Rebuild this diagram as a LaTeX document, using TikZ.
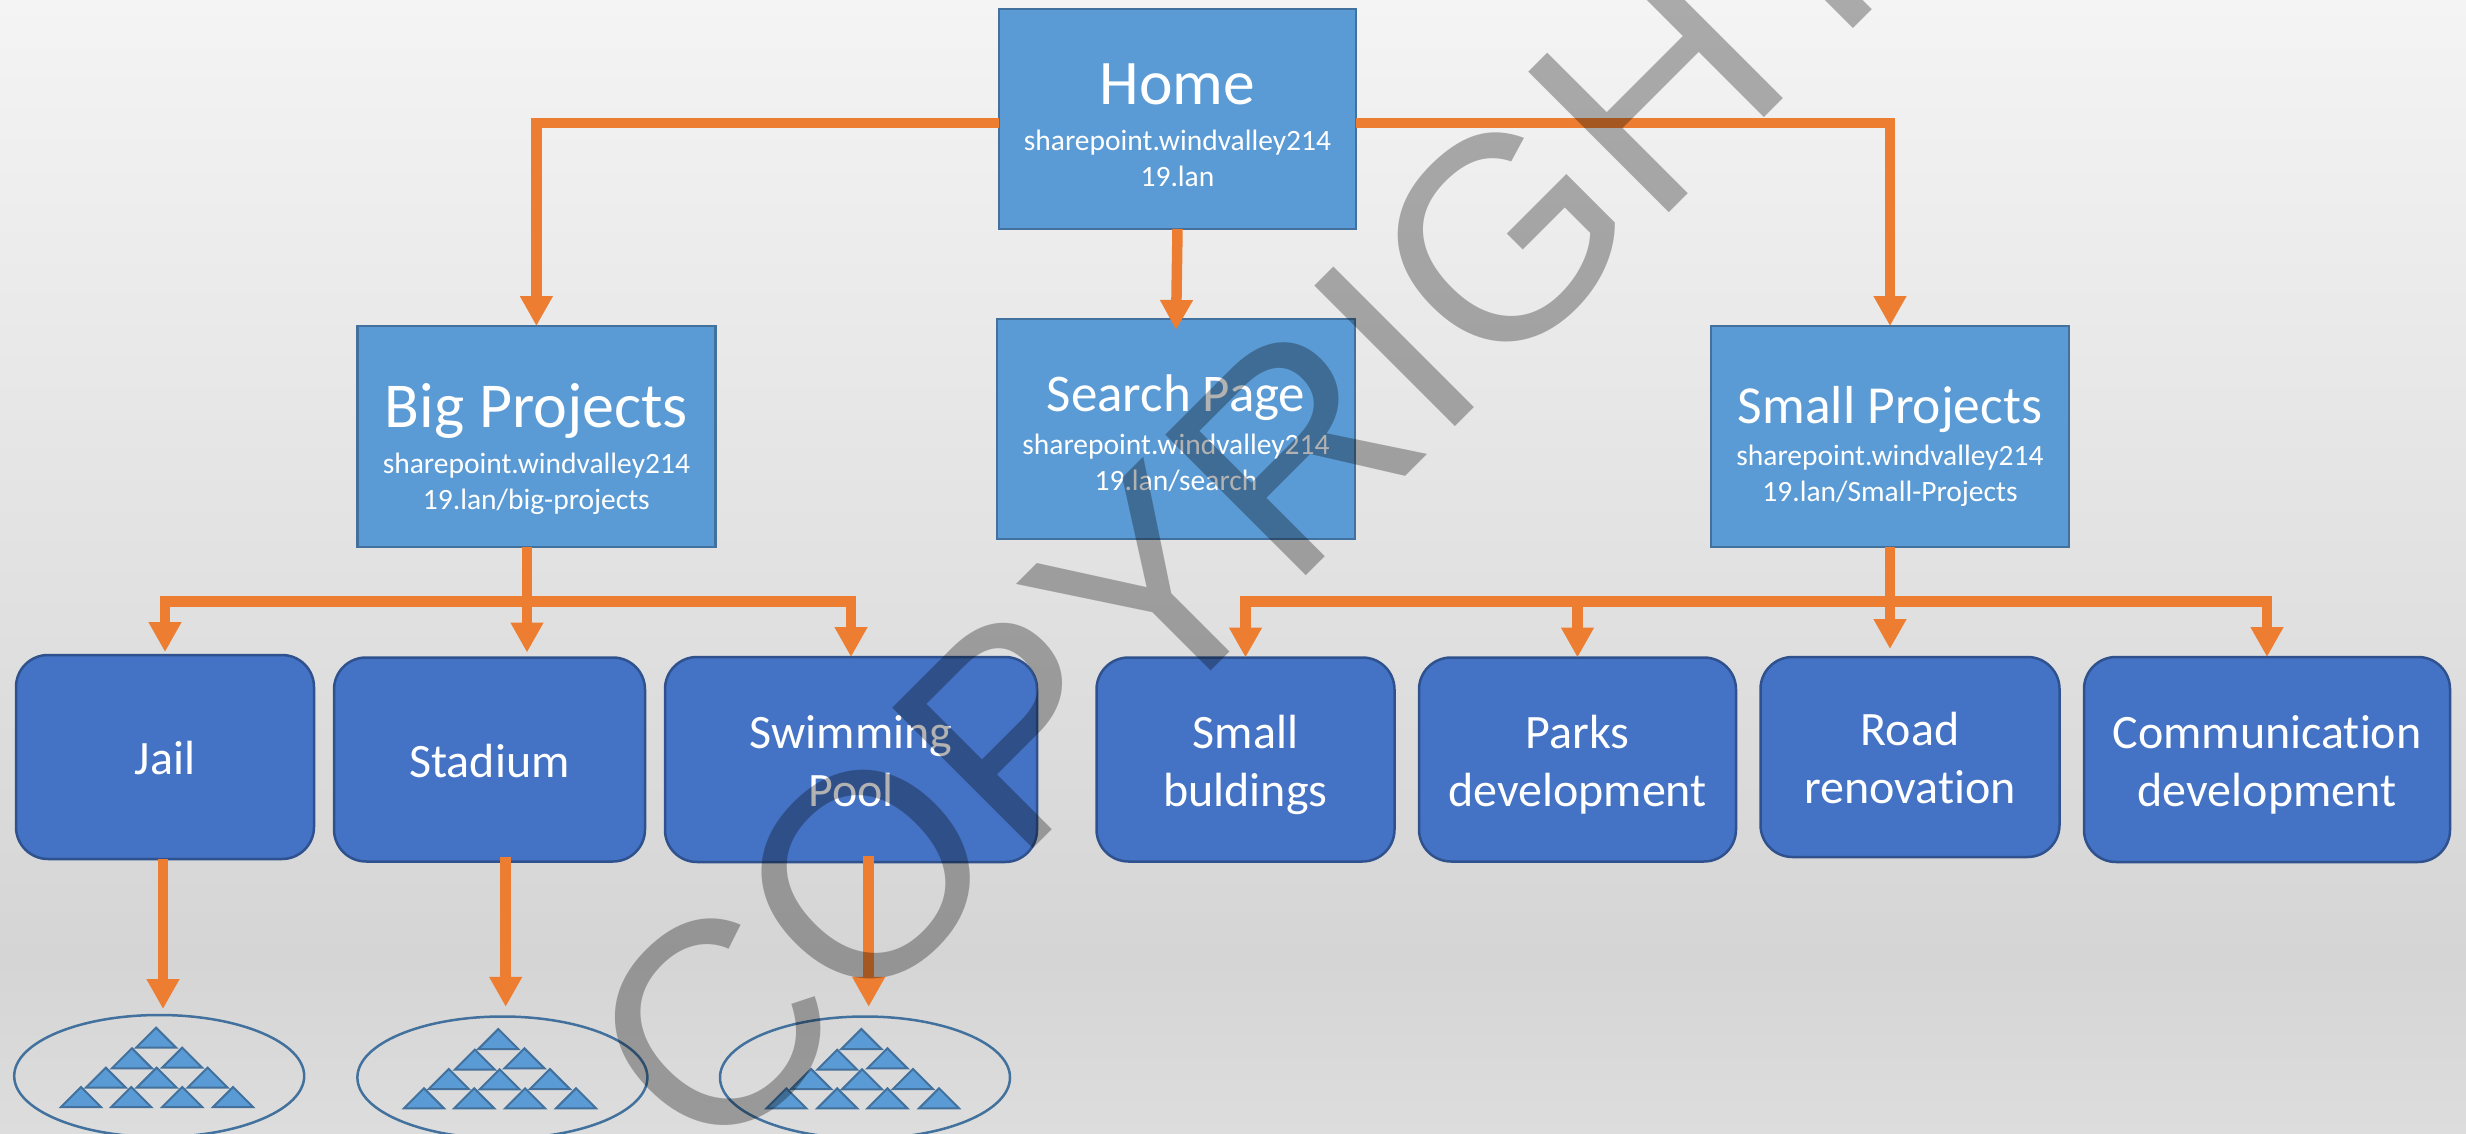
\documentclass[tikz,border=0pt]{standalone}
\usepackage{fontspec}
\setmainfont{Carlito}[Ligatures=CommonOff]
\newfontfamily\wmfont{Liberation Sans}
\usetikzlibrary{arrows.meta,shapes.geometric}
\definecolor{bgt}{HTML}{F4F4F4}
\definecolor{bgm}{HTML}{D5D5D5}
\definecolor{bgb}{HTML}{DDDDDD}
\pgfdeclareverticalshading{bgshade}{100bp}{color(0bp)=(bgb); color(25bp)=(bgb); color(32.7bp)=(bgm); color(75bp)=(bgt); color(100bp)=(bgt)}
\definecolor{rectfill}{HTML}{5B9BD5}
\definecolor{rectline}{HTML}{41719C}
\definecolor{roundfill}{HTML}{4472C4}
\definecolor{roundline}{HTML}{2F528F}
\definecolor{conncol}{HTML}{ED7D31}
\newcommand{\rst}{\rule[-9pt]{0pt}{53pt}}
\tikzset{
  rectbox/.style={draw=rectline,fill=rectfill,line width=2.5pt,inner sep=0pt,outer sep=0pt,text=white,align=center,font=\fontsize{29.5}{36}\selectfont},
  roundbox/.style={draw=roundline,fill=roundfill,line width=2.5pt,rounded corners=32pt,inner sep=0pt,outer sep=0pt,text=white,align=center,font=\fontsize{48}{58}\selectfont},
  ringnode/.style={ellipse,draw=rectline,line width=2.5pt,inner sep=0pt,outer sep=0pt},
  conn/.style={draw=conncol,line width=10.5pt},
  arr/.style={conn,-{Triangle[width=31pt,length=30pt]}},
  trishape/.style={draw=rectline,fill=rectfill,line width=2pt,line join=miter},
}
% size, title, strut height, gap, last url line
\newcommand{\boxtext}[5]{\rule{0pt}{#3}\fontsize{#1}{36}\selectfont #2\\[#4]sharepoint.windvalley214\\\rule[-10pt]{0pt}{10pt}#5}
\begin{document}
\begin{tikzpicture}[x=1pt,y=-1pt]
\useasboundingbox (0,0) rectangle (2466,1134);
\clip (0,0) rectangle (2466,1134);
\shade[shading=bgshade] (0,0) rectangle (2466,1134);
% rectangular pages
\node[rectbox,minimum width=357pt,minimum height=220pt] (home) at (1177.5,119)
  {\boxtext{63.5}{Home}{64pt}{10pt}{19.lan}};
\node[rectbox,minimum width=358pt,minimum height=220pt] (search) at (1176,429)
  {\boxtext{53}{Search Page}{54pt}{7pt}{19.lan/search}};
\node[rectbox,minimum width=358pt,minimum height=221pt] (big) at (536.4,436.5)
  {\boxtext{64}{Big Projects}{73pt}{10pt}{19.lan/big-projects}};
\node[rectbox,minimum width=358pt,minimum height=221pt] (small) at (1890,436.5)
  {\boxtext{53.5}{Small Projects}{62pt}{6pt}{19.lan/Small-Projects}};
% rounded boxes
\node[roundbox,minimum width=298pt,minimum height=204pt] (jail) at (165,757) {\rst Jail};
\node[roundbox,minimum width=311pt,minimum height=204pt] (stadium) at (489.5,759.5) {\rst Stadium};
\node[roundbox,minimum width=372pt,minimum height=205pt] (pool) at (851,759.5) {\rst Swimming\\\rst Pool};
\node[roundbox,minimum width=298pt,minimum height=204pt] (bldg) at (1245.5,759.5) {\rst Small\\\rst buldings};
\node[roundbox,minimum width=317pt,minimum height=204pt] (parks) at (1577.5,759.5) {\rst Parks\\\rst development};
\node[roundbox,minimum width=299pt,minimum height=200pt] (road) at (1910,757) {\rst Road\\\rst renovation};
\node[roundbox,minimum width=366pt,minimum height=205pt] (comm) at (2267,759.5) {\rst Communication\\\rst development};
% ellipses
\node[ringnode,minimum width=290pt,minimum height=122pt] (e1) at (159.2,1076) {};
\node[ringnode,minimum width=290pt,minimum height=122pt] (e2) at (502.4,1077.5) {};
\node[ringnode,minimum width=290pt,minimum height=122pt] (e3) at (865,1077.5) {};
% triangles
\foreach \a/\b in {233/530,197/592,272/590,158/650,234/650,310/650,121/708,196/708,272/708,348/708,
                   744/534,709/596,783/592,670/654,746/655,821/654,633/712,708/712,784/712,860/712,
                   1286/534,1250/596,1325/592,1211/654,1287/655,1363/654,1174/712,1250/712,1325/712,1402/712}
  \draw[trishape] ({\a/1.493},{850+\b/3+1}) -- ++(-20,20) -- ++(40,0) -- cycle;
% connectors
\coordinate (busb) at (527,601.5);
\coordinate (buss) at (1890,601.5);
\draw[arr] ([yshift=-4pt]home.west) -| (big.north);
\draw[arr] ([yshift=-4pt]home.east) -| (small.north);
\draw[arr] (home.south) -- ([yshift=-11pt]search.north);
\draw[arr] ([xshift=-9.4pt]big.south) -- ([xshift=37.5pt,yshift=5pt]stadium.north);
\draw[arr] (busb) -| ([yshift=3pt]jail.north);
\draw[arr] (busb) -| (pool.north);
\draw[arr] (small.south) -- ([xshift=-20pt,yshift=8pt]road.north);
\draw[arr] (buss) -| (bldg.north);
\draw[arr] (buss) -| (parks.north);
\draw[arr] (buss) -| (comm.north);
\draw[arr] ([xshift=-2pt]jail.south) -- ([xshift=3.8pt,yshift=6pt]e1.north);
\draw[arr] ([xshift=16.2pt,yshift=5pt]stadium.south) -- ([xshift=3.3pt,yshift=9.7pt]e2.north);
\draw[arr] ([xshift=17.7pt,yshift=6pt]pool.south) -- ([xshift=3.7pt,yshift=9.7pt]e3.north);
% watermark
\node[rotate=45,anchor=base west,inner sep=0pt,text=black,text opacity=0.3,font=\wmfont\fontsize{289}{289}\selectfont] (wm) at (710,1172) {COPYRIGHT};
\end{tikzpicture}
\end{document}
